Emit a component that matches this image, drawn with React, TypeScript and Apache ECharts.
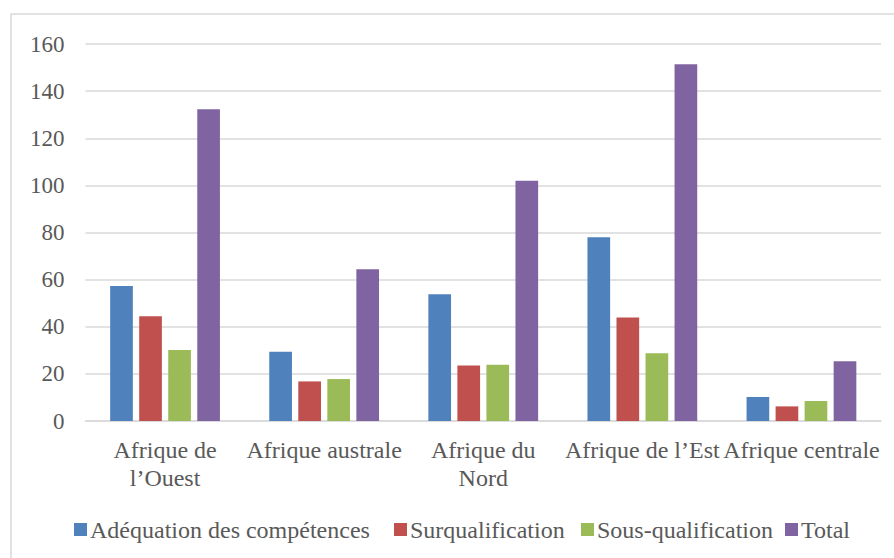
import React, { useEffect, useRef } from "react";
import * as echarts from "echarts";

const categories = [
  "Afrique de\nl’Ouest",
  "Afrique australe",
  "Afrique du\nNord",
  "Afrique de l’Est",
  "Afrique centrale",
];
const seriesNames = [
  "Adéquation des compétences",
  "Surqualification",
  "Sous-qualification",
  "Total",
];
const adequation = [57.3, 29.4, 53.8, 78.0, 10.2];
const surqualification = [44.5, 16.8, 23.6, 43.9, 6.2];
const sousQualification = [30.1, 17.8, 23.9, 28.8, 8.5];
const total = [132.3, 64.4, 102.0, 151.4, 25.4];
const colors = ["#4F81BD", "#C0504D", "#9BBB59", "#8064A2"];
const legendLefts = [74, 394, 581, 785];

const FONT = "Liberation Serif";

export default function App() {
  const ref = useRef<HTMLDivElement>(null);
  useEffect(() => {
    document.body.style.margin = "0";
    if (!ref.current) return;
    const chart = echarts.init(ref.current, null, { renderer: "svg" });
    const data = [adequation, surqualification, sousQualification, total];
    chart.setOption({
      animation: false,
      backgroundColor: "#ffffff",
      textStyle: { fontFamily: FONT },
      graphic: [
        {
          type: "rect",
          shape: { x: 11, y: 14, width: 1000, height: 700 },
          style: { fill: "none", stroke: "#d9d9d9", lineWidth: 1.5 },
          silent: true,
          z: -1,
        },
      ],
      grid: { left: 85.5, right: 13, top: 44, bottom: 137, containLabel: false },
      legend: seriesNames.map((name, i) => ({
        left: legendLefts[i],
        top: 516,
        itemWidth: 13,
        itemHeight: 13,
        icon: "rect",
        padding: 0,
        textStyle: {
          fontFamily: FONT,
          fontSize: 24,
          color: "#595959",
          lineHeight: 27,
          padding: [0, 0, 0, -2],
        },
        data: [name],
      })),
      xAxis: {
        type: "category",
        data: categories,
        axisLine: { show: true, lineStyle: { color: "#d9d9d9", width: 1.5 } },
        axisTick: { show: false },
        axisLabel: {
          interval: 0,
          margin: 15,
          fontFamily: FONT,
          fontSize: 24,
          lineHeight: 28,
          color: "#595959",
        },
      },
      yAxis: {
        type: "value",
        min: 0,
        max: 160,
        interval: 20,
        axisLine: { show: false },
        axisTick: { show: false },
        splitLine: { lineStyle: { color: "#d9d9d9", width: 1.5 } },
        axisLabel: {
          margin: 21,
          fontFamily: FONT,
          fontSize: 23,
          color: "#595959",
        },
      },
      series: seriesNames.map((name, i) => ({
        name,
        type: "bar",
        data: data[i],
        barCategoryGap: "31%",
        barGap: "28%",
        itemStyle: { color: colors[i] },
      })),
    });
    return () => chart.dispose();
  }, []);
  return <div ref={ref} style={{ width: 894, height: 558 }} />;
}
